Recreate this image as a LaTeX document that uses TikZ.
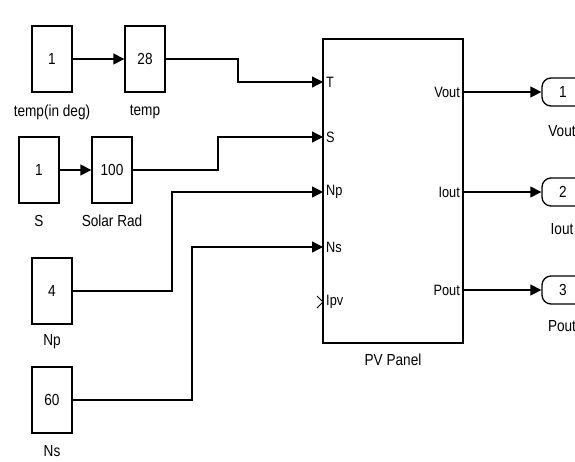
\documentclass[tikz,border=0pt]{standalone}
\usepackage{fontspec}
\setmainfont{Liberation Sans}
\newfontfamily\cfont[FakeStretch=0.85]{Liberation Sans}
\usetikzlibrary{arrows.meta}
\begin{document}
\begin{tikzpicture}[x=1pt,y=-1pt,
  blk/.style={draw,line width=1.3pt,minimum width=40pt,minimum height=66pt,inner sep=0pt,font=\cfont\fontsize{16}{18}\selectfont},
  lbl/.style={font=\cfont\fontsize{16}{18}\selectfont,inner sep=0pt},
  plbl/.style={font=\cfont\fontsize{15}{17}\selectfont,inner sep=0pt},
  wire/.style={line width=1.3pt,-{Triangle[length=11pt,width=11pt]}},
  outport/.style={draw,line width=1.3pt,rounded corners=9pt,minimum width=42pt,minimum height=28pt,inner sep=0pt,font=\cfont\fontsize{16}{18}\selectfont}]
\useasboundingbox (0,0) rectangle (575,461);
\clip (0,0) rectangle (575,461);
% constant / gain blocks
\node[blk] (c1) at (52,59) {1};
\node[blk] (c28) at (145,59) {28};
\node[blk] (cS) at (39,170) {1};
\node[blk] (cSR) at (112,170) {100};
\node[blk] (cNp) at (52,291) {4};
\node[blk] (cNs) at (52,400) {60};
\node[lbl] (l1) at (52,112) {temp(in deg)};
\node[lbl] (l28) at (145,112) {temp};
\node[lbl] (lS) at (39,221) {S};
\node[lbl] (lSR) at (112,221) {Solar Rad};
\node[lbl] (lNp) at (52,342) {Np};
\node[lbl] (lNs) at (52,451) {Ns};
% PV panel
\node[draw,line width=1.3pt,minimum width=140pt,minimum height=304pt,inner sep=0pt] (pv) at (393,191) {};
\node[lbl] (lpv) at (393,360) {PV Panel};
\coordinate (pT) at (323,82);
\coordinate (pS) at (323,137);
\coordinate (pNp) at (323,192);
\coordinate (pNs) at (323,247);
\coordinate (pIpv) at (323,302);
\node[plbl,anchor=west] (tT) at (326,82) {T};
\node[plbl,anchor=west] (tS) at (326,137) {S};
\node[plbl,anchor=west] (tNp) at (326,192) {Np};
\node[plbl,anchor=west] (tNs) at (326,247) {Ns};
\node[plbl,anchor=west] (tIpv) at (326,302) {Ipv};
\draw[line width=0.8pt] (317,296) -- (pIpv) -- (317,308);
\coordinate (oV) at (463,92);
\coordinate (oI) at (463,192);
\coordinate (oP) at (463,290);
\node[plbl,anchor=east] (tV) at (460,92) {Vout};
\node[plbl,anchor=east] (tI) at (460,192) {Iout};
\node[plbl,anchor=east] (tP) at (460,290) {Pout};
% outports
\node[outport] (o1) at (563,92) {1};
\node[outport] (o2) at (563,192) {2};
\node[outport] (o3) at (563,290) {3};
\node[lbl] (lo1) at (562,131) {Vout};
\node[lbl] (lo2) at (562,229) {Iout};
\node[lbl] (lo3) at (562,326) {Pout};
% wires
\draw[wire] (c1.east) -- (c28.west);
\draw[wire] (c28.east) -- (238,59) |- (pT);
\draw[wire] (cS.east) -- (cSR.west);
\draw[wire] (cSR.east) -- (218,170) |- (pS);
\draw[wire] (cNp.east) -- (172,291) |- (pNp);
\draw[wire] (cNs.east) -- (192,400) |- (pNs);
\draw[wire] (oV) -- (o1.west);
\draw[wire] (oI) -- (o2.west);
\draw[wire] (oP) -- (o3.west);
\end{tikzpicture}
\end{document}
